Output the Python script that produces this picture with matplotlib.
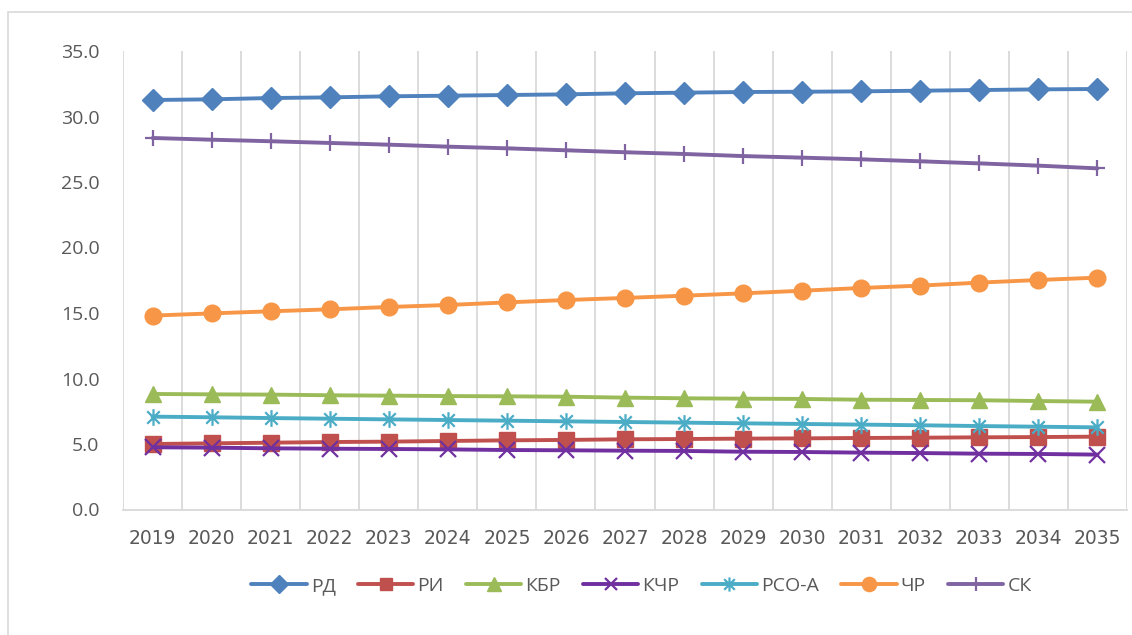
import matplotlib
matplotlib.use("Agg")
import matplotlib.pyplot as plt
from matplotlib.path import Path
from matplotlib.patches import Rectangle

years = [str(y) for y in range(2019, 2036)]

rd   = [31.26, 31.31, 31.41, 31.46, 31.54, 31.59, 31.64, 31.69, 31.77, 31.82, 31.87, 31.89, 31.92, 31.97, 32.02, 32.07, 32.10]
ri   = [5.00, 5.05, 5.10, 5.15, 5.18, 5.23, 5.28, 5.31, 5.36, 5.38, 5.41, 5.43, 5.46, 5.48, 5.51, 5.53, 5.56]
kbr  = [8.82, 8.79, 8.77, 8.72, 8.69, 8.66, 8.64, 8.61, 8.54, 8.49, 8.46, 8.44, 8.38, 8.36, 8.34, 8.28, 8.23]
kchr = [4.75, 4.72, 4.67, 4.64, 4.62, 4.59, 4.54, 4.52, 4.49, 4.47, 4.41, 4.39, 4.34, 4.31, 4.26, 4.24, 4.19]
rsoa = [7.09, 7.04, 6.98, 6.93, 6.88, 6.83, 6.78, 6.73, 6.68, 6.63, 6.58, 6.53, 6.48, 6.43, 6.37, 6.32, 6.27]
chr_ = [14.80, 14.97, 15.13, 15.28, 15.46, 15.61, 15.81, 15.99, 16.15, 16.32, 16.50, 16.70, 16.91, 17.09, 17.32, 17.52, 17.70]
sk   = [28.36, 28.23, 28.11, 27.98, 27.85, 27.70, 27.57, 27.42, 27.27, 27.14, 26.98, 26.86, 26.73, 26.58, 26.42, 26.25, 26.04]

names = ["РД", "РИ", "КБР", "КЧР", "РСО-А", "ЧР", "СК"]
yticks = [0, 5, 10, 15, 20, 25, 30, 35]

# Excel-style asterisk marker: vertical bar + X
star = Path([(0, -1), (0, 1), (-0.75, -0.75), (0.75, 0.75), (-0.75, 0.75), (0.75, -0.75)],
            [Path.MOVETO, Path.LINETO, Path.MOVETO, Path.LINETO, Path.MOVETO, Path.LINETO])

styles = [
    dict(color="#4F81BD", marker="D", ms=11, mec="#4F81BD"),
    dict(color="#C0504D", marker="s", ms=11, mec="#C0504D"),
    dict(color="#9BBB59", marker="^", ms=12, mec="#9BBB59"),
    dict(color="#7030A0", marker="x", ms=11, mew=1.6),
    dict(color="#4BACC6", marker=star, ms=12, mew=1.6),
    dict(color="#F79646", marker="o", ms=12, mec="#F79646"),
    dict(color="#8064A2", marker="+", ms=12, mew=1.6),
]

plt.rcParams['font.family'] = ['Open Sans', 'DejaVu Sans']

fig = plt.figure(figsize=(11.32, 6.35), dpi=100)
ax = fig.add_axes([123/1132, 1 - 509.5/635, (1127 - 123)/1132, (509.5 - 51)/635])

x = list(range(len(years)))
series = [rd, ri, kbr, kchr, rsoa, chr_, sk]
for name, vals, st in zip(names, series, styles):
    ax.plot(x, vals, lw=2.8, label=name, solid_capstyle="round", **st)

ax.set_xlim(-0.5, len(years) - 0.5)
ax.set_ylim(0, 35)
ax.set_yticks(yticks)
ax.set_yticklabels([f"{v:.1f}" for v in yticks])
ax.set_xticks(x)
ax.set_xticklabels(years, family=['DejaVu Sans'], fontsize=13.5)

# vertical gridlines at category boundaries
for b in range(len(years) + 1):
    ax.axvline(b - 0.5, color="#D9D9D9", lw=1.3, zorder=0)

for s in ["top", "right", "left"]:
    ax.spines[s].set_visible(False)
ax.spines["bottom"].set_color("#D9D9D9")
ax.spines["bottom"].set_linewidth(1.3)
ax.tick_params(axis="both", length=0, colors="#595959")
ax.tick_params(axis="y", pad=17, labelsize=14)
ax.tick_params(axis="x", pad=14)

leg = fig.legend(loc="center", bbox_to_anchor=(0.5667, 1 - 586/635), ncol=7, frameon=False,
                 fontsize=14, handlelength=2.85, columnspacing=1.13, handletextpad=0.22,
                 markerscale=0.85)
for t in leg.get_texts():
    t.set_color("#595959")

fig.patches.append(Rectangle((8/1132, -0.1), 1.2, 1.1 - 12/635, transform=fig.transFigure,
                             fill=False, ec="#D9D9D9", lw=1.2, zorder=-1))

fig.savefig("out.png", dpi=100, facecolor="white")
